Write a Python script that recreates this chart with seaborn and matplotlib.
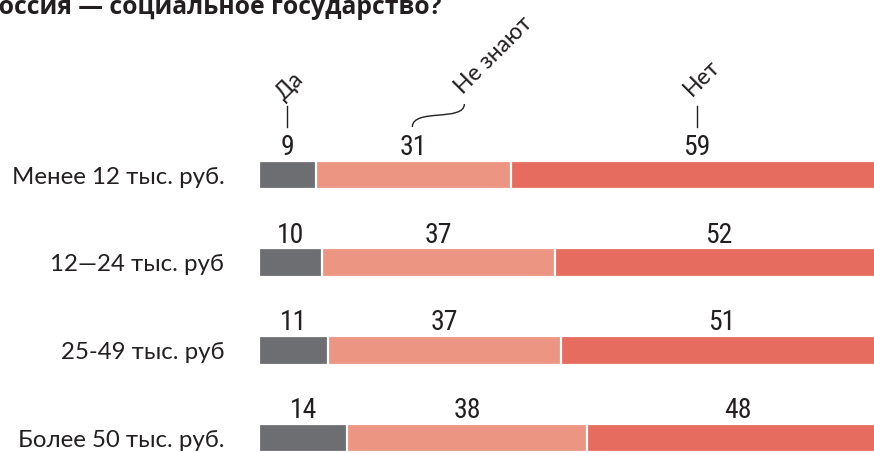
import matplotlib
matplotlib.use("Agg")
import matplotlib.pyplot as plt
from matplotlib import font_manager
from matplotlib.path import Path
from matplotlib.patches import PathPatch
import numpy as np
import pandas as pd
import seaborn as sns

# ---- data ----
categories = ["Менее 12 тыс. руб.", "12—24 тыс. руб", "25-49 тыс. руб", "Более 50 тыс. руб."]
da = [9, 10, 11, 14]
ne_znayut = [31, 37, 37, 38]
net = [59, 52, 51, 48]
series_names = ["Да", "Не знают", "Нет"]
title = "Россия — социальное государство?"

colors = {"Да": "#6d6e72", "Не знают": "#ec9583", "Нет": "#e76c60"}
TEXT = "#231f20"

fonts = font_manager.fontManager.ttflist
avail = {f.name for f in fonts}
def pick(*names):
    for n in names:
        if n in avail:
            return n
    return "DejaVu Sans"
def pick_bold(*names):
    for n in names:
        for f in fonts:
            if f.name == n and (f.weight in ("bold", 700, "heavy", 800, 900) or
                                (isinstance(f.weight, int) and f.weight >= 700)):
                return n
    return "DejaVu Sans"

F_LABEL = pick("Lato", "Open Sans", "DejaVu Sans")
F_NUM = pick("Roboto Condensed", "Liberation Sans Narrow", "DejaVu Sans Condensed", "Roboto")
F_TITLE = pick_bold("Open Sans", "Noto Sans", "Lato", "Roboto", "DejaVu Sans")

df = pd.DataFrame({"cat": categories, "Да": da, "Не знают": ne_znayut, "Нет": net})
df["c1"] = df["Да"]
df["c2"] = df["Да"] + df["Не знают"]
df["c3"] = df["c2"] + df["Нет"]

W, H = 874, 453
X0 = 259
U = 6.3
ROW0 = 175
ROWSTEP = 87.67

fig = plt.figure(figsize=(W / 100, H / 100), dpi=100)
ax = fig.add_axes([X0 / W, 0, (W - X0) / W, 1])

common = dict(y="cat", orient="h", width=0.33, edgecolor="white", linewidth=1.6,
              saturation=1, ax=ax, order=categories)
sns.barplot(data=df, x="c3", color=colors["Нет"], **common)
sns.barplot(data=df, x="c2", color=colors["Не знают"], **common)
sns.barplot(data=df, x="c1", color=colors["Да"], **common)

ax.set_xlim(0, (W - X0) / U)
ax.set_ylim((H - ROW0) / ROWSTEP, -ROW0 / ROWSTEP)
ax.set_xlabel("")
ax.set_ylabel("")
ax.set_xticks([])
ax.set_yticks(range(len(categories)))
ax.set_yticklabels(categories, fontsize=17.3, color=TEXT, family=F_LABEL)
ax.tick_params(axis="y", length=0, pad=25)
for s in ax.spines.values():
    s.set_visible(False)
ax.patch.set_visible(False)

def py(px):
    return px / ROWSTEP

# value labels
for i in range(len(categories)):
    starts = [0, df["c1"][i], df["c2"][i]]
    vals = [da[i], ne_znayut[i], net[i]]
    for s0, v in zip(starts, vals):
        ax.text(s0 + v / 2, i - py(20), str(v), ha="center", va="baseline",
                fontsize=20, family=F_NUM, color=TEXT)

# header labels from first row
c_da = da[0] / 2
c_nz = da[0] + ne_znayut[0] / 2
c_net = da[0] + ne_znayut[0] + net[0] / 2
y_line_top, y_line_bot = py(106 - ROW0), py(127 - ROW0)

ax.plot([c_da, c_da], [y_line_top, y_line_bot], color=TEXT, lw=1, clip_on=False)
ax.text(c_da + 2 / U, py(86 - ROW0), "Да", rotation=45, rotation_mode="anchor",
        ha="center", va="center", fontsize=16.5, family=F_LABEL, color=TEXT)

ax.plot([c_net, c_net], [y_line_top, y_line_bot], color=TEXT, lw=1, clip_on=False)
ax.text(c_net + 5 / U, py(78 - ROW0), "Нет", rotation=45, rotation_mode="anchor",
        ha="center", va="center", fontsize=16.5, family=F_LABEL, color=TEXT)

x_s = c_nz - 1 / U
x_e = c_nz + 51 / U
verts = [(x_s, py(127 - ROW0)), (x_s, py(108 - ROW0)),
         (x_e, py(122 - ROW0)), (x_e, py(104 - ROW0))]
path = Path(verts, [Path.MOVETO, Path.CURVE4, Path.CURVE4, Path.CURVE4])
ax.add_patch(PathPatch(path, facecolor="none", edgecolor=TEXT, lw=1, clip_on=False))
ax.text(c_nz + 80 / U, py(55 - ROW0), "Не знают", rotation=45, rotation_mode="anchor",
        ha="center", va="center", fontsize=16.5, family=F_LABEL, color=TEXT)

# title, sized so that it spans the same width as in the reference
t = fig.text(-17 / W, 1 - 14 / H, title, ha="left", va="baseline", fontsize=20,
             fontweight="bold", family=F_TITLE, color=TEXT)
fig.canvas.draw()
bb = t.get_window_extent()
t.set_fontsize(20 * 459 / bb.width)

fig.savefig("out.png", dpi=100, facecolor="white")
